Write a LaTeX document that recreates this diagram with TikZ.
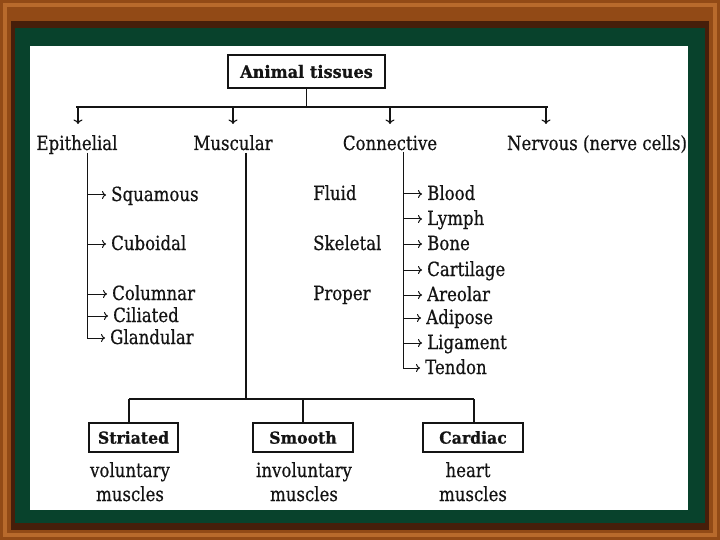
\documentclass[tikz,border=0pt]{standalone}
\usepackage{fontspec}
\setmainfont{DejaVu Serif}[FakeStretch=0.85, FakeBold=0.5]
\newfontfamily\boxfont{DejaVu Serif}[FakeStretch=0.95, BoldFeatures={FakeBold=0.8}]
\usetikzlibrary{arrows.meta}
\definecolor{woodlight}{RGB}{184,106,44}
\definecolor{wood}{RGB}{146,74,22}
\definecolor{wooddark}{RGB}{70,30,10}
\definecolor{boardgreen}{RGB}{8,66,44}
\definecolor{ink}{RGB}{20,20,20}
\begin{document}
\begin{tikzpicture}[x=1pt,y=-1pt,
  lbl/.style={font=\fontsize{19.5}{23}\selectfont, text=ink, inner sep=0pt, anchor=base},
  itm/.style={lbl, anchor=base west},
  bx/.style={draw=ink, line width=1.6pt, text=ink, font=\boxfont\bfseries\fontsize{16.5}{19}\selectfont, minimum height=29pt, inner sep=0pt},
  ln/.style={draw=ink, line width=1.4pt},
  sub/.style={draw=ink, line width=1pt, -{To[length=4pt,width=8pt]}, shorten >=5pt},
  drop/.style={draw=ink, line width=1.1pt, -{To[length=4.5pt,width=9pt]}},
]
\useasboundingbox (0,0) rectangle (720,540);
% frame
\fill[wood] (0,0) rectangle (720,540);
\draw[woodlight, line width=4pt] (5,5) rectangle (715,535);
\fill[wooddark] (11,21) rectangle (709,530);
\fill[boardgreen] (15,28) rectangle (705,523);
\fill[white] (30,46) rectangle (688,510);

% root
\node[bx, minimum width=157pt, minimum height=33pt, font=\boxfont\bfseries\fontsize{17}{20}\selectfont] (root) at (306.5,71.5) {Animal tissues};
\coordinate (hub) at (306.5,107);
\coordinate (hl) at (76,107);
\coordinate (hr) at (548,107);
\draw[ln] (root.south) -- (hub);
\draw[ln] (hl) -- (hr);

% main categories
\node[lbl] (epi) at (77,150) {Epithelial};
\node[lbl] (mus) at (233,150) {Muscular};
\node[lbl] (con) at (390,150) {Connective};
\node[lbl] (ner) at (597,150) {Nervous (nerve cells)};
\coordinate (d1) at (78,107);
\coordinate (d2) at (233,107);
\coordinate (d3) at (390,107);
\coordinate (d4) at (546,107);
\draw[drop] (d1) -- ++(0,17);
\draw[drop] (d2) -- ++(0,17);
\draw[drop] (d3) -- ++(0,17);
\draw[drop] (d4) -- ++(0,17);

% epithelial
\coordinate (ev0) at (87,153);
\node[itm] (sq) at (111,201) {Squamous};
\node[itm] (cu) at (111,250) {Cuboidal};
\node[itm] (co) at (112,300) {Columnar};
\node[itm] (ci) at (113,322) {Ciliated};
\node[itm] (gl) at (110,344) {Glandular};
\foreach \n in {sq,cu,co,ci,gl}{\coordinate (\n a) at ([yshift=6pt]\n.base west);}
\draw[sub] (ev0) -- (ev0 |- gla) -- (gla);
\foreach \n in {sq,cu,co,ci}{\draw[sub] (ev0 |- \n a) -- (\n a);}

% muscular
\coordinate (mv0) at (246,153);
\coordinate (mb) at (246,399);
\coordinate (bl) at (129,399);
\coordinate (br) at (474,399);
\draw[ln] (mv0) -- (mb);
\draw[ln] (bl) -- (br);
\node[bx, minimum width=89pt] (str) at (133.5,437.5) {Striated};
\node[bx, minimum width=100pt] (smo) at (303,437.5) {Smooth};
\node[bx, minimum width=100pt] (car) at (473,437.5) {Cardiac};
\draw[ln] (bl) -- (bl |- str.north);
\draw[ln] (smo.north |- mb) -- (smo.north);
\draw[ln] (br) -- (br |- car.north);
\node[lbl] (v1) at (130,477) {voluntary};
\node[lbl] (v2) at (130,501) {muscles};
\node[lbl] (i1) at (304,477) {involuntary};
\node[lbl] (i2) at (304,501) {muscles};
\node[lbl] (h1) at (468,477) {heart};
\node[lbl] (h2) at (473,501) {muscles};

% connective
\coordinate (cv0) at (403,152);
\node[itm] (fl) at (313,200) {Fluid};
\node[itm] (sk) at (313,250) {Skeletal};
\node[itm] (pr) at (313,300) {Proper};
\node[itm] (bo) at (427,200) {Blood};
\node[itm] (ly) at (427,225) {Lymph};
\node[itm] (bn) at (427,250) {Bone};
\node[itm] (ca) at (427,276) {Cartilage};
\node[itm] (ar) at (427,301) {Areolar};
\node[itm] (ad) at (426,324) {Adipose};
\node[itm] (li) at (427,349) {Ligament};
\node[itm] (te) at (425,374) {Tendon};
\foreach \n in {bo,ly,bn,ca,ar,ad,li,te}{\coordinate (\n a) at ([yshift=6pt]\n.base west);}
\draw[sub] (cv0) -- (cv0 |- tea) -- (tea);
\foreach \n in {bo,ly,bn,ca,ar,ad,li}{\draw[sub] (cv0 |- \n a) -- (\n a);}
\end{tikzpicture}
\end{document}
